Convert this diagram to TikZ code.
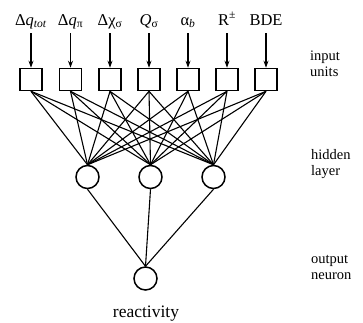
\documentclass[tikz,border=0pt]{standalone}
\usepackage{fontspec}
\setmainfont{Liberation Serif}
\usetikzlibrary{arrows.meta}
\begin{document}
\begin{tikzpicture}[x=1pt,y=-1pt,
  unitbox/.style={draw, line width=1.6pt, minimum size=22pt, inner sep=0pt},
  neuron/.style={circle, draw, line width=1.5pt, minimum size=23pt, inner sep=0pt},
  conn/.style={line width=1.1pt},
  feed/.style={line width=1.1pt, -{Stealth[length=7pt,width=5pt]}},
  toplab/.style={font=\fontsize{16.5}{18}\selectfont, anchor=base, inner sep=0pt},
  sidelab/.style={font=\fontsize{14.5}{15.5}\selectfont, anchor=base west, align=left, inner sep=0pt},
  outlab/.style={font=\fontsize{17.5}{20}\selectfont, anchor=base, inner sep=0pt}]
\useasboundingbox (0,0) rectangle (363,322);

% input boxes
\foreach \i/\x in {1/31,2/70.5,3/110,4/149,5/188,6/227,7/266}{
  \node[unitbox] (b\i) at (\x,79.5) {};
  \coordinate (a\i) at (\x,33);
  \draw[feed] (a\i) -- (b\i.north);
}

% top labels
\node[toplab] (l1) at (31,25) {Δ\textit{q}\textsubscript{\textit{tot}}};
\node[toplab] (l2) at (70.5,25) {Δ\textit{q}\textsubscript{π}};
\node[toplab] (l3) at (110,25) {Δχ\textsubscript{σ}};
\node[toplab] (l4) at (149,25) {\textit{Q}\textsubscript{σ}};
\node[toplab] (l5) at (188,25) {α\textsubscript{\textit{b}}};
\node[toplab] (l6) at (227,25) {R\textsuperscript{±}};
\node[toplab] (l7) at (266,25) {BDE};

% hidden layer
\node[neuron] (h1) at (87.5,177) {};
\node[neuron] (h2) at (150.5,177) {};
\node[neuron] (h3) at (213.5,177) {};

% output neuron
\node[neuron] (o) at (145.5,278.5) {};

% connections
\foreach \i in {1,...,7}{
  \foreach \j in {1,2,3}{
    \draw[conn] (b\i.south) -- (h\j.north);
  }
}
\foreach \j in {1,2,3}{
  \draw[conn] (h\j.south) -- (o.north);
}

% labels
\node[outlab] (react) at (146,317) {reactivity};
\node[sidelab] (s1) at (310,76) {input\\units};
\node[sidelab] (s2) at (311,175) {hidden\\layer};
\node[sidelab] (s3) at (311,279) {output\\neuron};
\end{tikzpicture}
\end{document}
